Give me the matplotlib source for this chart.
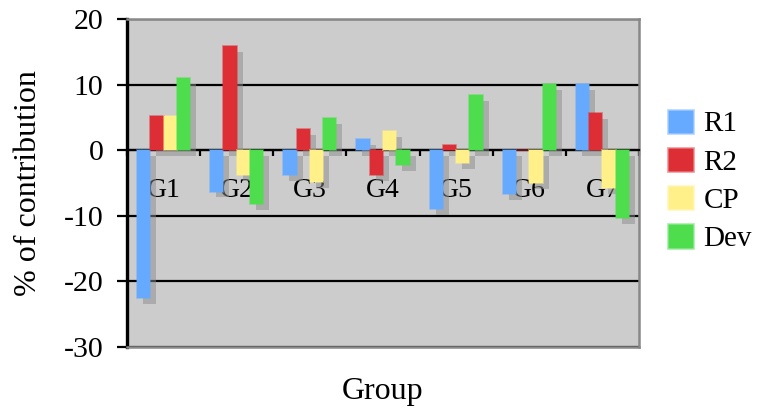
import matplotlib
matplotlib.use('Agg')
import matplotlib.pyplot as plt
import matplotlib.patheffects as pe
from matplotlib.patches import Patch
import numpy as np

# Data
groups = ['G1', 'G2', 'G3', 'G4', 'G5', 'G6', 'G7']
r1 = [-22.6, -6.3, -3.8, 1.7, -8.9, -6.7, 10.1]
r2 = [5.2, 15.9, 3.2, -3.8, 0.8, 0.0, 5.6]
cp = [5.2, -3.8, -4.8, 2.9, -2.0, -5.0, -5.8]
dev = [11.0, -8.2, 4.9, -2.3, 8.4, 10.1, -10.4]

series = [('R1', r1, '#66aaff'), ('R2', r2, '#dd2e36'),
          ('CP', cp, '#fff08a'), ('Dev', dev, '#4ddd4d')]

plt.rcParams['font.family'] = ['Liberation Serif', 'DejaVu Serif']
plt.rcParams['axes.unicode_minus'] = False

fig = plt.figure(figsize=(7.57, 4.11), dpi=100)
ax = fig.add_axes([0.1678, 0.1557, 0.6763, 0.7981])
ax.set_facecolor('#cccccc')

x = np.arange(len(groups))
width = 1 / 5.5
shadow = [pe.SimplePatchShadow(offset=(4.3, -4.3), shadow_rgbFace='#8c8c8c', alpha=0.5),
          pe.Normal()]

handles = []
for i, (name, vals, color) in enumerate(series):
    bars = ax.bar(x + (i - 1.5) * width, vals, width, color=color,
                  edgecolor=matplotlib.colors.to_rgba(color, 0.55),
                  linewidth=1.2, zorder=3)
    for b in bars:
        b.set_path_effects(shadow)
    handles.append(Patch(facecolor=color, edgecolor=matplotlib.colors.to_rgba(color, 0.45),
                         linewidth=2, label=name))

ax.set_xlim(-0.5, len(groups) - 0.5)
ax.set_ylim(-30, 20)
ax.set_yticks([-30, -20, -10, 0, 10, 20])
ax.yaxis.grid(True, color='black', linewidth=1.6, zorder=1)
ax.set_axisbelow(True)

# spines
ax.spines['left'].set_color('black')
ax.spines['left'].set_linewidth(2.4)
for s in ['top', 'right']:
    ax.spines[s].set_color('#888888')
    ax.spines[s].set_linewidth(1.8)
ax.spines['bottom'].set_position(('data', 0))
ax.spines['bottom'].set_color('black')
ax.spines['bottom'].set_linewidth(1.6)
ax.plot([0, 1], [0, 0], transform=ax.transAxes, color='#888888',
        linewidth=1.8, clip_on=False, zorder=5)

# x ticks: boundaries on the zero line, labels at group centres
ax.set_xticks(np.arange(len(groups) + 1) - 0.5)
ax.set_xticklabels([])
ax.tick_params(axis='x', which='major', direction='out', length=4, width=1.6, color='black')
ax.set_xticks(x, minor=True)
ax.set_xticklabels(groups, minor=True, fontsize=20)
ax.tick_params(axis='x', which='minor', length=0, pad=20)

ax.tick_params(axis='y', direction='out', length=7, width=1.6, color='black',
               labelsize=21.5, pad=10)

ax.set_ylabel('% of contribution', fontsize=23)
ax.yaxis.set_label_coords(-0.165, 0.5)
ax.set_xlabel('Group', fontsize=23)
ax.xaxis.set_label_coords(0.5, -0.09)

ax.legend(handles=handles, loc='center left', bbox_to_anchor=(0.883, 0.56),
          bbox_transform=fig.transFigure, frameon=False, fontsize=21,
          handlelength=0.85, handleheight=0.85, handletextpad=0.35,
          labelspacing=0.36, borderaxespad=0, borderpad=0)

fig.savefig('out.png', dpi=100)
